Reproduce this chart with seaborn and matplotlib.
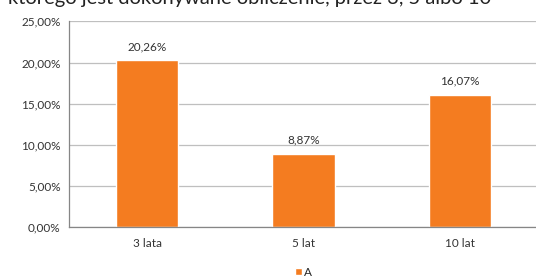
import matplotlib
matplotlib.use('Agg')
import matplotlib.pyplot as plt
import seaborn as sns
import pandas as pd
from matplotlib.ticker import FuncFormatter, FixedLocator

categories = ['3 lata', '5 lat', '10 lat']
values = [20.26, 8.87, 16.07]
series_name = 'A'
title = 'którego jest dokonywane obliczenie, przez 3, 5 albo 10'

sns.set_style('white')
plt.rcParams['font.family'] = ['Lato', 'DejaVu Sans']

df = pd.DataFrame({'okres': categories, 'wartosc': values, 'seria': series_name})

fig = plt.figure(figsize=(5.36, 2.78), dpi=100)
ax = fig.add_axes([69 / 536, 50.7 / 278, 469 / 536, 206 / 278])

orange = '#F47C20'
sns.barplot(data=df, x='okres', y='wartosc', hue='seria', palette=[orange],
            width=0.4, ax=ax, legend=True, saturation=1)

ax.set_ylim(0, 25)
ax.set_xlim(-0.5, 2.5)
ax.set_yticks([0, 5, 10, 15, 20, 25])
ax.yaxis.set_major_formatter(FuncFormatter(lambda v, p: f'{v:.2f}%'.replace('.', ',')))
ax.grid(axis='y', color='#BFBFBF', linewidth=0.9)
ax.set_axisbelow(True)
ax.tick_params(axis='y', length=3, color='#868686', labelsize=8.5, labelcolor='#333333', pad=3)

# category labels in the middle, tick marks on category boundaries
ax.xaxis.set_major_locator(FixedLocator([-0.5, 0.5, 1.5, 2.5]))
ax.xaxis.set_minor_locator(FixedLocator([0, 1, 2]))
ax.set_xticklabels([])
ax.set_xticklabels(categories, minor=True)
ax.tick_params(axis='x', which='major', length=4, color='#868686')
ax.tick_params(axis='x', which='minor', length=0, labelsize=8.5, labelcolor='#333333', pad=8)

for s in ['top', 'right']:
    ax.spines[s].set_visible(False)
for s in ['left', 'bottom']:
    ax.spines[s].set_color('#868686')
    ax.spines[s].set_linewidth(0.9)

ax.set_xlabel('')
ax.set_ylabel('')

for c in ax.containers:
    ax.bar_label(c, labels=[f'{v:.2f}%'.replace('.', ',') for v in c.datavalues],
                 padding=6, fontsize=8.5, color='#333333')

ax.legend(loc='center', bbox_to_anchor=(0.5, -45 / 206), frameon=False, fontsize=8.5,
          handlelength=0.6, handleheight=0.6, handletextpad=0.2, borderaxespad=0,
          borderpad=0)

fig.text(250 / 536, 1 - 4 / 278, title, ha='center', va='baseline', fontsize=14.5, color='#222222')

fig.savefig('out.png', dpi=100)
